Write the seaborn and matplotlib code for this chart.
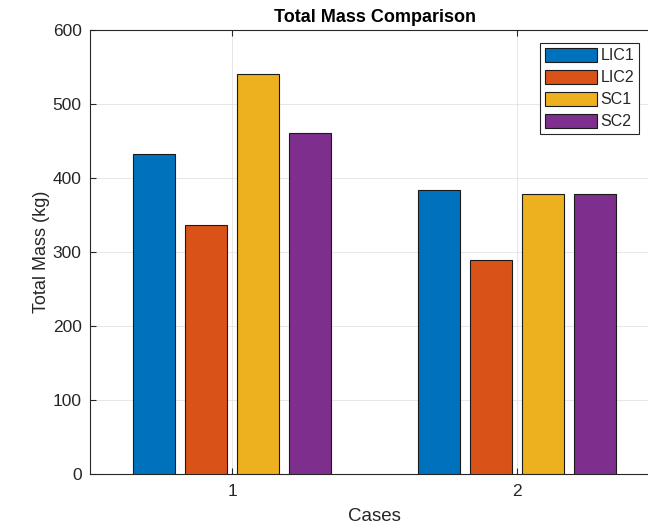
import matplotlib
matplotlib.use("Agg")
import matplotlib.pyplot as plt
import seaborn as sns
import pandas as pd

cases = ["1", "2"]
series = ["LIC1", "LIC2", "SC1", "SC2"]
lic1 = [432, 384]
lic2 = [336, 289]
sc1 = [541, 379]
sc2 = [461, 379]
colors = ["#0072BD", "#D95319", "#EDB120", "#7E2F8E"]

rows = []
for name, vals in zip(series, [lic1, lic2, sc1, sc2]):
    for c, v in zip(cases, vals):
        rows.append({"Cases": c, "Series": name, "Mass": v})
df = pd.DataFrame(rows)

sns.set_style("white")
plt.rcParams["font.family"] = ["Liberation Sans", "DejaVu Sans"]

fig = plt.figure(figsize=(6.48, 5.29), dpi=100)
ax = fig.add_axes([90 / 648, 55 / 529, 569.5 / 648, 444 / 529])

sns.barplot(data=df, x="Cases", y="Mass", hue="Series", hue_order=series,
            order=cases, palette=colors, width=0.73, gap=0.19,
            edgecolor="#1a1a1a", linewidth=0.8, saturation=1, errorbar=None,
            ax=ax, zorder=3)

ax.set_xlim(-0.5, 1.5)
ax.set_ylim(0, 600)
ax.set_yticks([0, 100, 200, 300, 400, 500, 600])
ax.grid(True, color="#e3e3e3", linewidth=0.6, zorder=0)
ax.set_axisbelow(True)

for s in ["left", "bottom", "top"]:
    ax.spines[s].set_color("#262626")
    ax.spines[s].set_linewidth(0.8)
ax.spines["right"].set_visible(False)

ax.tick_params(axis="both", direction="in", length=4, width=0.8,
               colors="#262626", labelsize=12.5, top=True, left=True,
               bottom=True, pad=6)
ax.tick_params(axis="x", pad=7)

ax.set_xlabel("Cases", fontsize=13.5, color="#262626", labelpad=7)
ax.set_ylabel("Total Mass (kg)", fontsize=13, color="#262626", labelpad=2)
ax.set_title("Total Mass Comparison", fontsize=13, fontweight="bold",
             color="black", pad=6)

leg = ax.legend(loc="upper right", bbox_to_anchor=(639 / 648, 1 - 43 / 529),
                bbox_transform=fig.transFigure, borderaxespad=0,
                fancybox=False, framealpha=1, edgecolor="#262626",
                fontsize=11.5, handlelength=3.3, handleheight=1.0,
                labelspacing=0.4, handletextpad=0.2, borderpad=0.3,
                title=None)
leg.get_frame().set_linewidth(0.8)

fig.savefig("out.png", dpi=100)
